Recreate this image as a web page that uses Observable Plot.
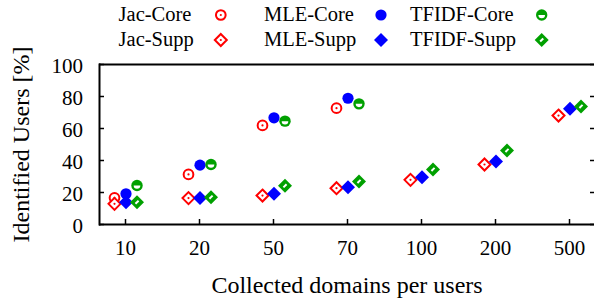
<!DOCTYPE html>
<html>
<head>
<meta charset="utf-8">
<script src="https://cdn.jsdelivr.net/npm/d3@7"></script>
<script src="https://cdn.jsdelivr.net/npm/@observablehq/plot@0.6"></script>
<style>
  html, body { margin: 0; padding: 0; background: white; overflow: hidden; }
  #chart svg { display: block; }
  #chart svg.plot { overflow: visible; }
</style>
</head>
<body>
<div id="chart"></div>
<script>
// ---- data ----
const categories = ["10", "20", "50", "70", "100", "200", "500"];
const coreCategories = ["10", "20", "50", "70"];
const jacCore = [16.7, 31.3, 61.9, 72.7];
const mleCore = [19.2, 37.1, 66.7, 78.9];
const tfidfCore = [24.4, 37.5, 64.6, 75.4];
const jacSupp = [12.9, 16.5, 18.1, 22.7, 27.9, 37.5, 68.1];
const mleSupp = [13.9, 16.5, 19.2, 23.3, 29.6, 39.4, 72.3];
const tfidfSupp = [13.9, 17.1, 24.2, 26.9, 34.4, 46.3, 73.8];
const yTicks = [0, 20, 40, 60, 80, 100];
const seriesNames = ["Jac-Core", "Jac-Supp", "MLE-Core", "MLE-Supp", "TFIDF-Core", "TFIDF-Supp"];
const xLabel = "Collected domains per users";
const yLabel = "Identified Users [%]";

// ---- styles ----
const RED = "#ff0000", BLUE = "#0000ff", GREEN = "#00a000";
const FONT = "'Liberation Serif', 'Times New Roman', serif";

const halfDiscLower = {
  draw(ctx, size) {
    const r = Math.sqrt(size / Math.PI);
    ctx.moveTo(r, 0);
    ctx.arc(0, 0, r, 0, Math.PI);
    ctx.closePath();
  }
};
const rotRect = {
  draw(ctx) {
    const a = 2.2, b = 1.0, s = Math.SQRT1_2;
    const u = [s, -s], v = [s, s];
    const p = (ka, kb) => [ka * a * u[0] + kb * b * v[0], ka * a * u[1] + kb * b * v[1]];
    const pts = [p(1, 1), p(1, -1), p(-1, -1), p(-1, 1)];
    ctx.moveTo(...pts[0]);
    for (let i = 1; i < 4; i++) ctx.lineTo(...pts[i]);
    ctx.closePath();
  }
};

const styles = {
  "Jac-Core": { dx: -11, layers: [
    { symbol: "circle", r: 4.85, fill: "white", stroke: RED, strokeWidth: 2 },
    { symbol: "circle", r: 1.1, fill: RED }] },
  "Jac-Supp": { dx: -11, layers: [
    { symbol: "diamond2", r: 5.4, fill: "white", stroke: RED, strokeWidth: 2 },
    { symbol: "circle", r: 1.1, fill: RED }] },
  "MLE-Core": { dx: 0.5, layers: [
    { symbol: "circle", r: 5.6, fill: BLUE }] },
  "MLE-Supp": { dx: 0.5, layers: [
    { symbol: "diamond2", r: 6.3, fill: BLUE }] },
  "TFIDF-Core": { dx: 11.5, layers: [
    { symbol: "circle", r: 5.7, fill: GREEN },
    { symbol: halfDiscLower, r: 3.3, fill: "white" }] },
  "TFIDF-Supp": { dx: 11.5, layers: [
    { symbol: "diamond2", r: 6.3, fill: GREEN },
    { symbol: rotRect, r: 1, fill: "white" }] }
};

const seriesData = {
  "Jac-Core": [coreCategories, jacCore],
  "Jac-Supp": [categories, jacSupp],
  "MLE-Core": [coreCategories, mleCore],
  "MLE-Supp": [categories, mleSupp],
  "TFIDF-Core": [coreCategories, tfidfCore],
  "TFIDF-Supp": [categories, tfidfSupp]
};

function seriesMarks(name) {
  const [cats, vals] = seriesData[name];
  const data = cats.map((c, i) => ({ cat: c, value: vals[i] }));
  const st = styles[name];
  return st.layers.map(L => Plot.dot(data, {
    x: "cat", y: "value", dx: st.dx,
    symbol: L.symbol, r: L.r,
    fill: L.fill ?? "none", stroke: L.stroke ?? "none", strokeWidth: L.strokeWidth ?? 0
  }));
}

// ---- legend (drawn above the plot) ----
const legendCols = [
  { text: 118.6, sym: 220.8, names: ["Jac-Core", "Jac-Supp"] },
  { text: 264, sym: 381, names: ["MLE-Core", "MLE-Supp"] },
  { text: 410, sym: 541.7, names: ["TFIDF-Core", "TFIDF-Supp"] }
];
const legendRows = [{ sym: 15, base: 20.5 }, { sym: 40, base: 45.5 }];
const symTypes = { circle: d3.symbolCircle, diamond2: d3.symbolDiamond2 };

const legend = d3.create("svg").attr("width", 594).attr("height", 54).style("display", "block");
legendCols.forEach(col => {
  col.names.forEach((name, ri) => {
    const row = legendRows[ri];
    legend.append("text")
      .attr("x", col.text).attr("y", row.base)
      .attr("font-family", FONT).attr("font-size", 20.5)
      .attr("fill", "black").text(name);
    styles[name].layers.forEach(L => {
      const type = typeof L.symbol === "string" ? symTypes[L.symbol] : L.symbol;
      legend.append("path")
        .attr("transform", `translate(${col.sym},${row.sym})`)
        .attr("d", d3.symbol(type, L.r * L.r * Math.PI)())
        .attr("fill", L.fill ?? "none")
        .attr("stroke", L.stroke ?? "none")
        .attr("stroke-width", L.strokeWidth ?? 0);
    });
  });
});

// ---- plot ----
const chart = Plot.plot({
  className: "plot",
  width: 594,
  height: 251,
  marginTop: 10,
  marginBottom: 81,
  marginLeft: 99,
  marginRight: 0,
  style: { fontFamily: FONT, fontSize: "21px", color: "black", background: "transparent", overflow: "visible" },
  x: { type: "point", domain: categories, padding: 0.34 },
  y: { domain: [0, 100] },
  marks: [
    Plot.ruleY([0, 100], { strokeWidth: 2 }),
    Plot.frame({ anchor: "left", strokeWidth: 2 }),
    Plot.axisY(yTicks, { anchor: "left", tickSize: -5, strokeWidth: 1.5, fill: "none", label: null }),
    Plot.axisY(yTicks, { anchor: "right", tickSize: -5, strokeWidth: 1.5, fill: "none", label: null }),
    Plot.axisX(categories, { anchor: "bottom", tickSize: -5, strokeWidth: 1.5, fill: "none", label: null }),
    Plot.axisY(yTicks, { anchor: "left", tickSize: 0, tickPadding: 16.5, dy: 2, fontSize: 21, label: null }),
    Plot.axisX(categories, { anchor: "bottom", tickSize: 0, tickPadding: 16, fontSize: 21, label: null }),
    Plot.text([yLabel], { text: d => d, frameAnchor: "left", textAnchor: "middle", rotate: -90, dx: -78.4, lineAnchor: "middle", fontSize: 24 }),
    Plot.text([xLabel], { text: d => d, frameAnchor: "bottom", textAnchor: "middle", dy: 61.3, lineAnchor: "middle", fontSize: 24 }),
    ...seriesNames.flatMap(seriesMarks)
  ]
});

const root = document.getElementById("chart");
root.appendChild(legend.node());
root.appendChild(chart);
</script>
</body>
</html>
